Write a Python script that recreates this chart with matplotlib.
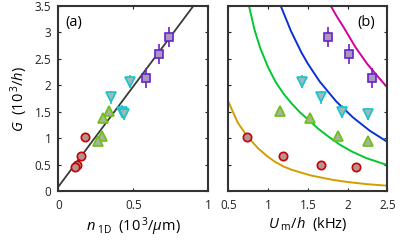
import matplotlib
matplotlib.use("Agg")
import matplotlib.pyplot as plt
from matplotlib.ticker import FormatStrFormatter

plt.rcParams["font.family"] = ["Open Sans", "DejaVu Sans"]
plt.rcParams["mathtext.fontset"] = "custom"
plt.rcParams["mathtext.rm"] = "Open Sans"
plt.rcParams["mathtext.it"] = "Open Sans:italic"

# data groups: n_1D (10^3/um), G (10^3/h), U_m/h (kHz), error on G
circ_n = [0.176, 0.149, 0.122, 0.110]
circ_G = [1.03, 0.66, 0.49, 0.46]
circ_U = [0.74, 1.19, 1.66, 2.11]
circ_err = [0.05, 0.05, 0.05, 0.05]

up_n = [0.338, 0.300, 0.289, 0.267]
up_G = [1.52, 1.38, 1.04, 0.95]
up_U = [1.15, 1.53, 1.88, 2.26]
up_err = [0.08, 0.08, 0.09, 0.08]

down_n = [0.478, 0.349, 0.423, 0.440]
down_G = [2.07, 1.77, 1.50, 1.46]
down_U = [1.43, 1.66, 1.93, 2.26]
down_err = [0.13, 0.12, 0.12, 0.12]

sq_n = [0.585, 0.669, 0.740]
sq_G = [2.13, 2.60, 2.91]
sq_U = [2.31, 2.02, 1.76]
sq_err = [0.19, 0.19, 0.19]

# linear fit in (a)
fit_n = [0.0, 0.90]
fit_G = [0.08, 3.50]

# theory curves in (b)
orange_U = [0.50, 0.62, 0.74, 0.88, 1.00, 1.09, 1.20, 1.30, 1.53, 1.65, 1.82, 2.00, 2.24, 2.50]
orange_G = [1.69, 1.29, 1.03, 0.80, 0.645, 0.55, 0.46, 0.40, 0.297, 0.26, 0.209, 0.17, 0.13, 0.10]
green_U = [0.76, 0.83, 0.90, 1.00, 1.10, 1.20, 1.30, 1.40, 1.52, 1.63, 1.75, 1.90, 2.05, 2.24, 2.50]
green_G = [3.50, 3.05, 2.71, 2.34, 2.05, 1.83, 1.65, 1.49, 1.33, 1.18, 1.04, 0.88, 0.75, 0.62, 0.49]
blue_U = [1.16, 1.29, 1.42, 1.50, 1.65, 1.86, 2.07, 2.28, 2.50]
blue_G = [3.50, 3.02, 2.62, 2.41, 2.07, 1.69, 1.39, 1.14, 0.93]
mag_U = [1.79, 1.87, 1.95, 2.10, 2.25, 2.39, 2.50]
mag_G = [3.50, 3.29, 3.10, 2.72, 2.40, 2.15, 1.96]

styles = [
    ("o", 6.0, "#b89292", "#c80000", circ_n, circ_U, circ_G, circ_err),
    ("^", 7.2, "#a6b59a", "#6cc010", up_n, up_U, up_G, up_err),
    ("v", 7.2, "#9fb8b8", "#18c4cc", down_n, down_U, down_G, down_err),
    ("s", 5.8, "#a698c2", "#6a22c4", sq_n, sq_U, sq_G, sq_err),
]

fig = plt.figure(figsize=(4.15, 2.43), dpi=100)
ax_a = fig.add_axes([0.1405, 0.214, 0.3614, 0.761])
ax_b = fig.add_axes([0.5502, 0.214, 0.3831, 0.761])

ax_a.plot(fit_n, fit_G, color="#3a3a3a", lw=1.3, zorder=2)
ax_b.plot(orange_U, orange_G, color="#d19e00", lw=1.4, zorder=2)
ax_b.plot(green_U, green_G, color="#00c832", lw=1.4, zorder=2)
ax_b.plot(blue_U, blue_G, color="#0a32d2", lw=1.4, zorder=2)
ax_b.plot(mag_U, mag_G, color="#d2009e", lw=1.4, zorder=2)

for marker, ms, face, edge, n, u, g, err in styles:
    for ax, xs in ((ax_a, n), (ax_b, u)):
        ax.errorbar(xs, g, yerr=err, fmt=marker, ms=ms, mfc=face, mec=edge,
                    mew=1.2, ecolor=edge, elinewidth=1.2, capsize=0, zorder=3)

for ax in (ax_a, ax_b):
    ax.set_ylim(0, 3.5)
    ax.set_yticks([0, 0.5, 1, 1.5, 2, 2.5, 3, 3.5])
    ax.yaxis.set_major_formatter(FormatStrFormatter("%g"))
    ax.xaxis.set_major_formatter(FormatStrFormatter("%g"))
    ax.tick_params(direction="in", top=True, right=True, length=2.5,
                   width=0.8, labelsize=8.5, colors="#222222")
    ax.tick_params(axis="x", pad=6)
    ax.tick_params(axis="y", pad=5)
    for s in ax.spines.values():
        s.set_linewidth(1.5)
        s.set_color("#333333")

ax_a.set_xlim(0, 1)
ax_a.set_xticks([0, 0.5, 1])
ax_b.set_xlim(0.5, 2.5)
ax_b.set_xticks([0.5, 1, 1.5, 2, 2.5])
ax_b.tick_params(labelleft=False)

ax_a.set_xlabel(r"$n_{\ \mathrm{1D}}$  (10$^{\,3}$/$\mu$m)", fontsize=10.5, labelpad=2)
ax_a.set_ylabel(r"$G$  (10$^{\,3}$/$h$)", fontsize=10.5, labelpad=3)
ax_b.set_xlabel(r"$U_{\ \mathrm{m}}$/$h$  (kHz)", fontsize=10.5, labelpad=2)

ax_a.text(0.045, 0.91, "(a)", transform=ax_a.transAxes, fontsize=10.5,
          va="center", ha="left")
ax_b.text(0.81, 0.91, "(b)", transform=ax_b.transAxes, fontsize=10.5,
          va="center", ha="left")

fig.savefig("out.png", dpi=100)
